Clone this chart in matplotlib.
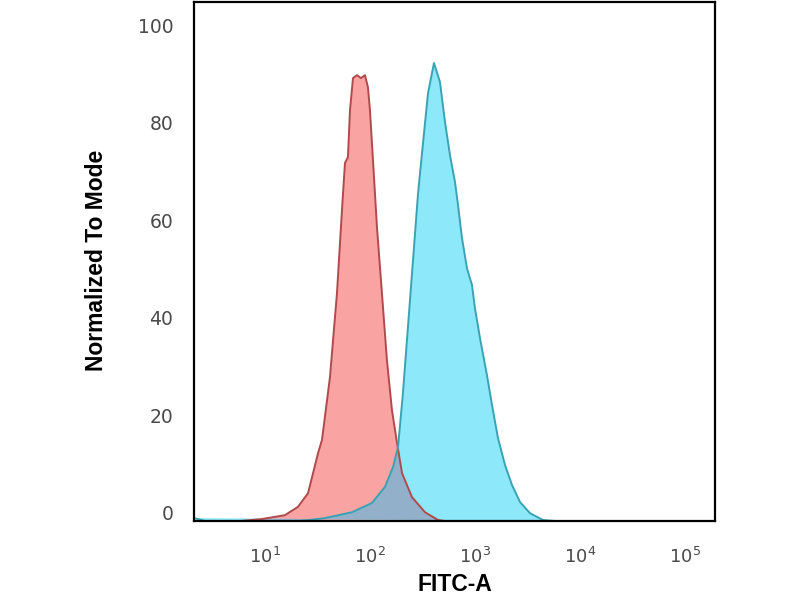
import matplotlib
matplotlib.use("Agg")
import matplotlib.pyplot as plt
import matplotlib.transforms as mtransforms
from matplotlib.patches import Polygon

# ---- data ----
iso_x = [5.78, 9.36, 15.5, 20.6, 25.7, 28.7, 32.0, 34.9, 41.6, 48.5, 54.1, 57.8,
         61.7, 64.5, 68.9, 75.2, 82.1, 89.6, 95.7, 100, 106.8, 116.6, 130, 145,
         162, 181, 202, 251, 334, 445, 518]
iso_y = [0, 0.4, 1.2, 2.9, 5.7, 9.8, 13.9, 16.6, 29.5, 46.7, 63.7, 73.4,
         74.6, 84.2, 90.8, 91.4, 90.8, 91.4, 88.9, 84.2, 74.0, 60.2, 46.7, 33.0,
         22.7, 16.0, 9.8, 4.9, 1.8, 0.2, 0]

ab_x = [2.11, 2.68, 21.5, 37.3, 67.4, 104.4, 139, 166, 185, 206, 230, 257, 287,
        320, 357, 407, 464, 518, 578, 645, 689, 752, 839, 936, 1000, 1116, 1300,
        1452, 1656, 1931, 2250, 2683, 3343, 4444, 5780]
ab_y = [0.6, 0, 0, 0.6, 1.8, 3.7, 7.0, 11.1, 15.2, 26.2, 39.8, 53.5, 67.2,
        77.5, 87.7, 93.9, 90.0, 81.8, 75.0, 69.5, 64.8, 58.0, 51.8, 48.4, 43.6,
        37.5, 29.9, 23.8, 17.0, 11.5, 7.4, 3.9, 1.6, 0.2, 0]

x_ticks = [10, 100, 1000, 10000, 100000]
x_tick_labels = ["$10^{1}$", "$10^{2}$", "$10^{3}$", "$10^{4}$", "$10^{5}$"]
y_ticks = [0, 20, 40, 60, 80, 100]
y_tick_labels = ["0", "20", "40", "60", "80", "100"]
x_limits = [2.11, 1.93e5]
y_limits = [0, 106.4]

# ---- styling ----
plt.rcParams['mathtext.default'] = 'regular'
red_fill = "#F9A3A3"
red_edge = "#B04A4C"
blue_fill = "#8DE8F9"
blue_edge = "#3AA3B3"
overlap_fill = "#93B0CB"

fig = plt.figure(figsize=(8, 6), dpi=100)
ax = fig.add_axes([194 / 800, 1 - 521 / 600, 521 / 800, 519 / 600])
ax.set_xscale("log")
ax.set_xlim(x_limits)
ax.set_ylim(y_limits)

# fills
iso_poly = Polygon(list(zip(iso_x, iso_y)), closed=True, facecolor=red_fill,
                   edgecolor="none", zorder=1)
ab_poly = Polygon(list(zip(ab_x, ab_y)), closed=True, facecolor=blue_fill,
                  edgecolor="none", zorder=2)
ax.add_patch(iso_poly)
ax.add_patch(ab_poly)
ov_poly = Polygon(list(zip(iso_x, iso_y)), closed=True, facecolor=overlap_fill,
                  edgecolor="none", zorder=3)
ax.add_patch(ov_poly)
ov_poly.set_clip_path(ab_poly)

# outlines
ax.plot(iso_x, iso_y, color=red_edge, lw=1.4, zorder=4)
ax.plot(ab_x, ab_y, color=blue_edge, lw=1.4, zorder=5)

# ticks
ax.set_xticks(x_ticks)
ax.set_xticklabels(x_tick_labels)
ax.xaxis.set_minor_locator(matplotlib.ticker.NullLocator())
ax.set_yticks(y_ticks)
ax.set_yticklabels(y_tick_labels)
ax.tick_params(axis="both", length=0, labelsize=13.5, labelcolor="#4a4a4a")
ax.tick_params(axis="x", labelsize=13, pad=19)
ax.tick_params(axis="y", pad=15)

offset = mtransforms.ScaledTranslation(0, 0.08, fig.dpi_scale_trans)
for t in ax.yaxis.get_major_ticks():
    t.label1.set_transform(t.label1.get_transform() + offset)

for s in ax.spines.values():
    s.set_color("black")
    s.set_linewidth(1.6)
    s.set_zorder(10)

label_font = ["Liberation Sans", "DejaVu Sans"]
ax.set_xlabel("FITC-A", fontsize=16.5, fontweight="bold", family=label_font)
ax.xaxis.set_label_coords(0.5, -0.100)
ax.set_ylabel("Normalized To Mode", fontsize=16.5, fontweight="bold",
              family=label_font)
ax.yaxis.set_label_coords(-0.166, 0.503)

fig.savefig("out.png", dpi=100)
